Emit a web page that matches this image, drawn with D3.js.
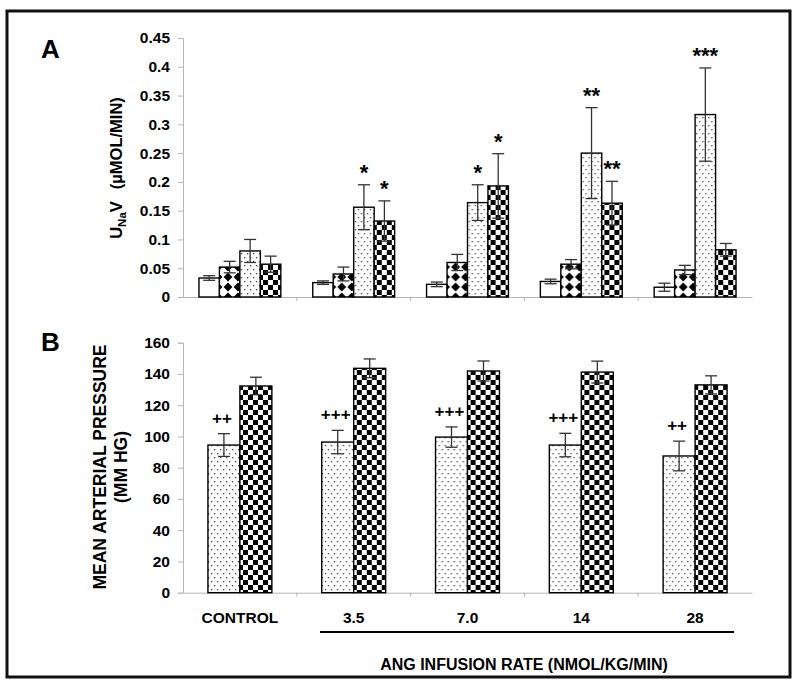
<!DOCTYPE html>
<html><head><meta charset="utf-8">
<script src="https://cdn.jsdelivr.net/npm/d3@7"></script>
<style>
html,body{margin:0;padding:0;background:#fff;}
svg{display:block;font-family:"Liberation Sans",Arial,sans-serif;font-weight:bold;}
</style></head>
<body>
<svg id="chart" width="800" height="688"></svg>
<script>
// ---------- data ----------
const categories = ["CONTROL", "3.5", "7.0", "14", "28"];
const seriesA = ["open", "diamond", "dotted", "checker"];
const seriesB = ["dotted", "checker"];

const unavMeans = [
  [0.033, 0.052, 0.080, 0.057],
  [0.025, 0.040, 0.156, 0.132],
  [0.022, 0.060, 0.164, 0.193],
  [0.027, 0.057, 0.250, 0.163],
  [0.017, 0.047, 0.317, 0.082]
];
const unavErr = [
  [0.004, 0.010, 0.020, 0.014],
  [0.003, 0.012, 0.039, 0.035],
  [0.004, 0.014, 0.031, 0.056],
  [0.004, 0.008, 0.079, 0.038],
  [0.007, 0.008, 0.081, 0.011]
];
const unavSig = [
  ["", "", "", ""],
  ["", "", "*", "*"],
  ["", "", "*", "*"],
  ["", "", "**", "**"],
  ["", "", "***", ""]
];
const unavTicks = [0, 0.05, 0.1, 0.15, 0.2, 0.25, 0.3, 0.35, 0.4, 0.45];

const mapMeans = [
  [94.5, 132.3],
  [96.4, 143.6],
  [99.6, 141.9],
  [94.5, 141.2],
  [87.5, 133.0]
];
const mapErr = [
  [7.3, 5.6],
  [7.5, 6.0],
  [6.5, 6.4],
  [7.5, 7.0],
  [9.5, 5.8]
];
const mapSig = ["++", "+++", "+++", "+++", "++"];
const mapTicks = [0, 20, 40, 60, 80, 100, 120, 140, 160];

// ---------- setup ----------
const svg = d3.select("#chart");
const defs = svg.append("defs");

// patterns
(function () {
  const pd = defs.append("pattern").attr("id", "p-diamond").attr("patternUnits", "userSpaceOnUse")
    .attr("width", 10).attr("height", 10).attr("x", 0).attr("y", 2);
  pd.append("rect").attr("width", 10).attr("height", 10).attr("fill", "#fff");
  pd.append("path").attr("d", "M5,0.6 L9.4,5 L5,9.4 L0.6,5 Z").attr("fill", "#000");

  const pdot = defs.append("pattern").attr("id", "p-dotted").attr("patternUnits", "userSpaceOnUse")
    .attr("width", 6).attr("height", 8);
  pdot.append("rect").attr("width", 6).attr("height", 8).attr("fill", "#fff");
  pdot.append("rect").attr("x", 1).attr("y", 1).attr("width", 1.3).attr("height", 1.3).attr("fill", "#444");
  pdot.append("rect").attr("x", 4).attr("y", 5).attr("width", 1.3).attr("height", 1.3).attr("fill", "#444");

  const pc = defs.append("pattern").attr("id", "p-checker").attr("patternUnits", "userSpaceOnUse")
    .attr("width", 10).attr("height", 10);
  pc.append("rect").attr("width", 10).attr("height", 10).attr("fill", "#fff");
  pc.append("rect").attr("x", 0).attr("y", 0).attr("width", 5).attr("height", 5).attr("fill", "#000");
  pc.append("rect").attr("x", 5).attr("y", 5).attr("width", 5).attr("height", 5).attr("fill", "#000");
})();
const fillFor = { open: "#fff", diamond: "url(#p-diamond)", dotted: "url(#p-dotted)", checker: "url(#p-checker)" };

// outer border
svg.append("rect").attr("x", 7).attr("y", 11).attr("width", 783).attr("height", 666)
  .attr("fill", "none").attr("stroke", "#111").attr("stroke-width", 3);

const xLeft = 183, xRight = 752;
const x = d3.scaleBand().domain(categories).range([xLeft, xRight]).paddingInner(0).paddingOuter(0);
const xA = d3.scaleBand().domain(seriesA).range([0, x.bandwidth()]).paddingInner(0).paddingOuter(0.78);
const xB = d3.scaleBand().domain(seriesB).range([0, x.bandwidth()]).paddingInner(0).paddingOuter(0.78);

const axisColor = "#b5b5b5";

function drawPanel(opts) {
  const { y, ticks, fmt, series, xs, means, errs, sig, sigAboveSeries, sigSize, sigOffset } = opts;
  const g = svg.append("g");
  // y axis
  const ya = g.append("g").attr("transform", `translate(${xLeft},0)`)
    .call(d3.axisLeft(y).tickValues(ticks).tickFormat(fmt).tickSize(5).tickPadding(8));
  ya.select(".domain").attr("stroke", axisColor);
  ya.selectAll(".tick line").attr("stroke", axisColor);
  ya.selectAll(".tick text").attr("fill", "#000").attr("font-size", 15.5)
    .attr("font-family", "Liberation Sans, Arial, sans-serif").attr("font-weight", "bold");
  // x axis baseline
  const y0 = y(0);
  const xa = g.append("g").attr("transform", `translate(0,${y0})`)
    .call(d3.axisBottom(x).tickSize(0).tickFormat(""));
  xa.select(".domain").attr("stroke", axisColor);
  // tick marks at category boundaries
  g.selectAll(".bnd").data(categories.slice(1)).enter().append("line")
    .attr("x1", d => x(d)).attr("x2", d => x(d))
    .attr("y1", y0).attr("y2", y0 + 4).attr("stroke", axisColor);

  // bars
  categories.forEach((c, ci) => {
    const gg = g.append("g").attr("transform", `translate(${x(c)},0)`);
    series.forEach((s, si) => {
      const v = means[ci][si];
      gg.append("rect").attr("x", xs(s)).attr("y", y(v)).attr("width", xs.bandwidth())
        .attr("height", y0 - y(v)).attr("fill", fillFor[s]).attr("stroke", "#000").attr("stroke-width", 1.4);
    });
    series.forEach((s, si) => {
      const v = means[ci][si], e = errs[ci][si];
      const cx = xs(s) + xs.bandwidth() / 2;
      gg.append("line").attr("x1", cx).attr("x2", cx).attr("y1", y(v + e)).attr("y2", y(v - e))
        .attr("stroke", "#333").attr("stroke-width", 1.3);
      [v + e, v - e].forEach(t => {
        gg.append("line").attr("x1", cx - 6).attr("x2", cx + 6).attr("y1", y(t)).attr("y2", y(t))
          .attr("stroke", "#333").attr("stroke-width", 1.3);
      });
    });
    // significance
    if (sigAboveSeries) {
      series.forEach((s, si) => {
        const lab = sig[ci][si];
        if (!lab) return;
        const cx = xs(s) + xs.bandwidth() / 2;
        gg.append("text").attr("x", cx).attr("y", y(means[ci][si] + errs[ci][si]) - sigOffset)
          .attr("text-anchor", "middle").attr("font-size", sigSize).text(lab);
      });
    } else {
      const s = series[0];
      const cx = xs(s) + xs.bandwidth() / 2 - 2;
      gg.append("text").attr("x", cx).attr("y", y(means[ci][0] + errs[ci][0]) - sigOffset)
        .attr("text-anchor", "middle").attr("font-size", sigSize).text(sig[ci]);
    }
  });
}

// Panel A
const yA = d3.scaleLinear().domain([0, 0.45]).range([297, 38]);
drawPanel({
  y: yA, ticks: unavTicks, fmt: d => d === 0 ? "0" : d3.format("")(+d.toFixed(2)),
  series: seriesA, xs: xA, means: unavMeans, errs: unavErr, sig: unavSig,
  sigAboveSeries: true, sigSize: 22, sigOffset: 5
});

// Panel B
const yB = d3.scaleLinear().domain([0, 160]).range([592.7, 342.7]);
drawPanel({
  y: yB, ticks: mapTicks, fmt: d3.format("d"),
  series: seriesB, xs: xB, means: mapMeans, errs: mapErr, sig: mapSig,
  sigAboveSeries: false, sigSize: 17, sigOffset: 10
});

// Panel letters
svg.append("text").attr("x", 41).attr("y", 58).attr("font-size", 26).text("A");
svg.append("text").attr("x", 41).attr("y", 351).attr("font-size", 26).text("B");

// Y labels
const ylA = svg.append("text").attr("transform", "translate(122,168) rotate(-90)")
  .attr("text-anchor", "middle").attr("font-size", 16.5);
ylA.append("tspan").text("U");
ylA.append("tspan").attr("font-size", 11.5).attr("dy", 4).text("Na");
ylA.append("tspan").attr("dy", -4).text("V");
ylA.append("tspan").attr("dx", 12).text("(µMOL/MIN)");

svg.append("text").attr("transform", "translate(106,467) rotate(-90)")
  .attr("text-anchor", "middle").attr("font-size", 17.5).text("MEAN ARTERIAL PRESSURE");
svg.append("text").attr("transform", "translate(127,467) rotate(-90)")
  .attr("text-anchor", "middle").attr("font-size", 17.5).text("(MM HG)");

// category labels
svg.selectAll(".cat").data(categories).enter().append("text")
  .attr("x", d => x(d) + x.bandwidth() / 2).attr("y", 623)
  .attr("text-anchor", "middle").attr("font-size", 15.5).text(d => d);

// bracket line under infusion rates
svg.append("line").attr("x1", 320).attr("x2", 734).attr("y1", 632).attr("y2", 632)
  .attr("stroke", "#000").attr("stroke-width", 2);
svg.append("text").attr("x", 524).attr("y", 670).attr("text-anchor", "middle")
  .attr("font-size", 16).text("ANG INFUSION RATE (NMOL/KG/MIN)");
</script>
</body></html>
